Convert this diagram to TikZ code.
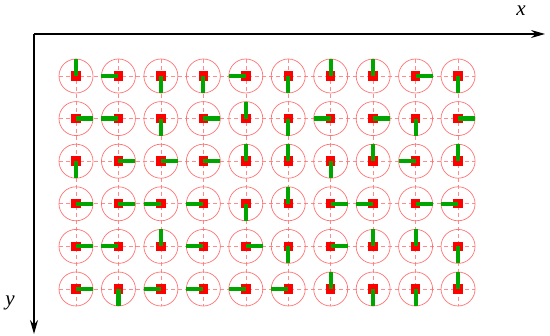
\documentclass[tikz,border=0pt]{standalone}
\usepackage{fontspec}
\newfontfamily\labfont{Liberation Serif}
\usetikzlibrary{arrows.meta}
\begin{document}
\begin{tikzpicture}[x=1pt,y=-1pt,
  ring/.style={draw=red!55, line width=0.7pt},
  gridline/.style={draw=red!45, dash pattern=on 4pt off 3pt, line width=0.6pt},
  sq/.style={fill=red},
  bar/.style={draw={rgb,255:red,0;green,165;blue,0}, line width=4.2pt},
  axis/.style={draw=black, line width=1.2pt, -{Stealth[length=14pt,width=8pt]}},
  lab/.style={font=\labfont\itshape\fontsize{21}{24}\selectfont}]
\useasboundingbox (0,0) rectangle (550,336);
% dashed grid lines
\foreach \j in {0,...,5}
  \draw[gridline] (76-17, 76+42.6*\j) -- (458.05+17, 76+42.6*\j);
\foreach \i in {0,...,9}
  \draw[gridline] (76+42.45*\i, 76-17) -- (76+42.45*\i, 289+17);
% circles and squares
\foreach \j in {0,...,5}
  \foreach \i in {0,...,9}{
    \draw[ring] (76+42.45*\i, 76+42.6*\j) circle (17);
    \fill[sq] (76+42.45*\i-4.7, 76+42.6*\j-4.7) rectangle ++(9.4,9.4);
  }
% green bars: 0=R,1=U,2=L,3=D
\foreach \row [count=\j from 0] in {
  {1,2,3,3,2,3,1,1,0,3},
  {0,2,3,0,1,3,2,0,3,0},
  {3,0,0,0,1,1,3,1,2,1},
  {0,0,2,2,3,1,0,2,0,2},
  {0,2,1,2,0,3,0,1,1,3},
  {0,3,2,2,2,2,1,3,3,1}}
  \foreach \d [count=\i from 0] in \row
    \draw[bar] (76+42.45*\i, 76+42.6*\j) -- ++({17*cos(90*\d)}, {-17*sin(90*\d)});
% axes
\coordinate (o) at (34,34);
\coordinate (xe) at (545,34);
\coordinate (ye) at (34,334);
\draw[axis] (o) -- (xe);
\draw[axis] (o) -- (ye);
\node[lab] (xl) at (521,11) {x};
\node[lab] (yl) at (10,303) {y};
\end{tikzpicture}
\end{document}
